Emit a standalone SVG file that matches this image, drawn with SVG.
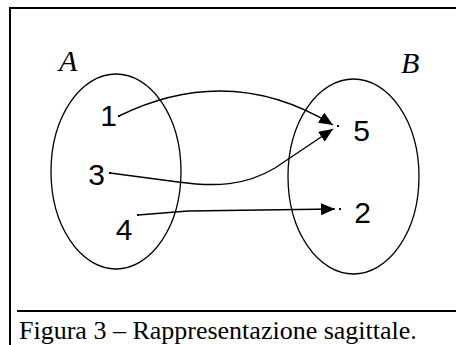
<svg xmlns="http://www.w3.org/2000/svg" width="456" height="345" viewBox="0 0 456 345">
<style>
.frame{stroke:#000;stroke-width:2;fill:none}
.set{fill:none;stroke:#000;stroke-width:1.3}
.el{font-family:"Liberation Sans",Arial,sans-serif;font-size:30px;fill:#000;text-anchor:middle}
.setname{font-family:"Liberation Serif","Times New Roman",serif;font-style:italic;font-size:30px;fill:#000}
.cap{font-family:"Liberation Serif","Times New Roman",serif;font-size:26px;fill:#000}
.conn{fill:none;stroke:#000;stroke-width:1.4}
.dot{fill:#000}
</style>
<defs>
<marker id="arr" markerUnits="userSpaceOnUse" markerWidth="16" markerHeight="14" refX="14" refY="6" orient="auto">
<path d="M0,0 L14,6 L0,12 Z" fill="#000"/>
</marker>
</defs>
<rect width="456" height="345" fill="#fff"/>
<g id="frame">
<line class="frame" x1="10" y1="7" x2="10" y2="345"/>
<line class="frame" x1="9" y1="8" x2="456" y2="8"/>
<line class="frame" x1="17" y1="311" x2="456" y2="311"/>
</g>
<g id="setA">
<ellipse class="set" cx="116" cy="171.5" rx="65" ry="97.5"/>
<text class="setname" x="59" y="71">A</text>
</g>
<g id="setB">
<ellipse class="set" cx="353.5" cy="176.5" rx="65.5" ry="97.5"/>
<text class="setname" x="401" y="73">B</text>
</g>
<g id="n1"><rect class="dot" x="118" y="115" width="2" height="2"/><text class="el" x="108.6" y="126">1</text></g>
<g id="n3"><rect class="dot" x="109" y="172" width="2" height="2"/><text class="el" x="96.5" y="185">3</text></g>
<g id="n4"><rect class="dot" x="137" y="214" width="2" height="2"/><text class="el" x="124" y="240">4</text></g>
<g id="n5"><rect class="dot" x="337" y="125" width="2" height="2"/><text class="el" x="361.5" y="141">5</text></g>
<g id="n2"><rect class="dot" x="339" y="208" width="2" height="2"/><text class="el" x="362.5" y="223">2</text></g>
<g id="connectors">
<path class="conn" d="M119,116 Q230,62 333,125" marker-end="url(#arr)"/>
<path class="conn" d="M110,173 L178,182 C215,187 245,186 275,168 L333,129" marker-end="url(#arr)"/>
<path class="conn" d="M138,215 L188,211 L335,209" marker-end="url(#arr)"/>
</g>
<text class="cap" x="19" y="339">Figura 3 – Rappresentazione sagittale.</text>
</svg>
